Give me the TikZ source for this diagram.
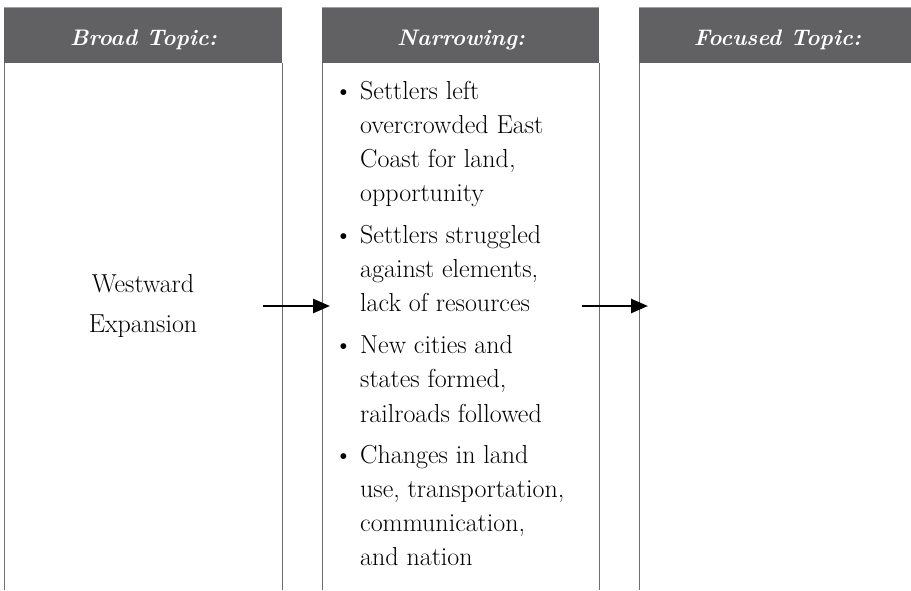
\documentclass[tikz,border=0pt]{standalone}
\usepackage{fontspec}
\usetikzlibrary{arrows.meta}
\definecolor{hdr}{HTML}{616163}
\definecolor{hdrtop}{HTML}{A0A0A2}
\definecolor{rulec}{HTML}{6E6E6E}
\tikzset{
  hdrbox/.style={fill=hdr},
  hdrtext/.style={text=white, font=\fontsize{22.5}{26}\selectfont\bfseries\itshape, inner sep=0pt, anchor=base},
  bodytext/.style={text=black, font=\fontsize{26}{34}\selectfont, inner sep=0pt},
  colrule/.style={draw=rulec, line width=0.8pt},
  arr/.style={draw=black, line width=2.6pt, -{Triangle[length=17pt,width=14pt]}}
}
\begin{document}
\begin{tikzpicture}[x=1pt,y=-1pt]
\useasboundingbox (0,0) rectangle (911,590);
% headers
\fill[hdrbox] (4,7) rectangle (282,63);
\fill[hdrbox] (322,7) rectangle (599,63);
\fill[hdrbox] (639,7) rectangle (916,63);
\draw[hdrtop, line width=1pt] (4,7.5) -- (282,7.5);
\draw[hdrtop, line width=1pt] (322,7.5) -- (599,7.5);
\draw[hdrtop, line width=1pt] (639,7.5) -- (916,7.5);
\node[hdrtext] (h1) at (143.5,45) {Broad Topic:};
\node[hdrtext] (h2) at (461,45) {Narrowing:};
\node[hdrtext] (h3) at (777.5,45) {Focused Topic:};
% column rules
\draw[colrule] (4,63) -- (4,590);
\draw[colrule] (282,63) -- (282,590);
\draw[colrule] (322,63) -- (322,590);
\draw[colrule] (599,63) -- (599,590);
\draw[colrule] (639,63) -- (639,590);
% broad topic
\node[bodytext, anchor=base] (w1) at (143,292) {Westward};
\node[bodytext, anchor=base] (w2) at (143,332) {Expansion};
% bullets
\foreach \n/\y in {ba/99, bb/243, bc/353, bd/463}
  \node[bodytext, anchor=base] (\n) at (343.5,\y) {\textbullet};
\foreach \n/\y/\t in {
  l1/99/{Settlers left},
  l2/133/{overcrowded East},
  l3/167/{Coast for land,},
  l4/201/{opportunity},
  l5/243/{Settlers struggled},
  l6/277/{against elements,},
  l7/311/{lack of resources},
  l8/353/{New cities and},
  l9/387/{states formed,},
  l10/422/{railroads followed},
  l11/463/{Changes in land},
  l12/497/{use, transportation,},
  l13/531/{communication,},
  l14/565/{and nation}}
  \node[bodytext, anchor=base west] (\n) at (360,\y) {\t};
% arrows
\coordinate (a1s) at (263,306);
\coordinate (a1e) at (330,306);
\coordinate (a2s) at (582,306);
\coordinate (a2e) at (648,306);
\draw[arr] (a1s) -- (a1e);
\draw[arr] (a2s) -- (a2e);
\end{tikzpicture}
\end{document}
